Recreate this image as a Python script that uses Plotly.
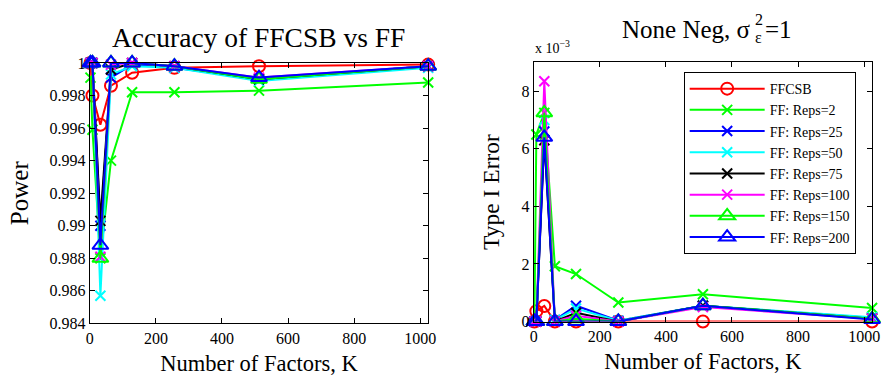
import plotly.graph_objects as go

# Number of factors
K = [2, 8, 32, 64, 128, 256, 512, 1024]

# Power (left panel)
power_ffcsb = [1.0000, 0.9980, 0.9962, 0.9986, 0.9994, 0.9997, 0.9998, 0.9999]
power_reps2 = [0.9991, 0.9959, 0.9880, 0.9940, 0.9982, 0.9982, 0.9983, 0.9988]
power_reps25 = [1.0000, 1.0000, 0.9900, 0.9991, 0.9999, 0.9997, 0.9990, 0.9998]
power_reps50 = [1.0000, 1.0000, 0.9857, 0.9993, 0.9998, 0.9997, 0.9989, 0.9997]
power_reps75 = [1.0000, 1.0000, 0.9903, 0.9996, 1.0000, 0.9998, 0.9990, 0.9998]
power_reps100 = [1.0000, 1.0000, 0.9881, 0.9999, 1.0000, 0.9998, 0.9991, 0.9998]
power_reps150 = [1.0000, 1.0000, 0.9880, 1.0000, 1.0000, 0.9998, 0.9990, 0.9998]
power_reps200 = [1.0000, 1.0000, 0.9888, 1.0000, 1.0000, 0.9998, 0.9991, 0.9998]

# Type I error, in units of 1e-3 (right panel)
err_ffcsb = [0.00, 0.36, 0.54, 0.00, 0.00, 0.00, 0.00, 0.00]
err_reps2 = [0.00, 6.50, 7.25, 1.92, 1.65, 0.66, 0.95, 0.47]
err_reps25 = [0.00, 0.00, 6.60, 0.05, 0.55, 0.03, 0.55, 0.12]
err_reps50 = [0.00, 0.00, 7.00, 0.05, 0.45, 0.03, 0.55, 0.15]
err_reps75 = [0.00, 0.00, 6.30, 0.00, 0.30, 0.00, 0.55, 0.10]
err_reps100 = [0.00, 0.00, 8.35, 0.00, 0.20, 0.00, 0.50, 0.10]
err_reps150 = [0.00, 0.00, 7.25, 0.00, 0.10, 0.00, 0.55, 0.10]
err_reps200 = [0.00, 0.00, 6.40, 0.00, 0.00, 0.00, 0.55, 0.07]

series_names = ["FFCSB", "FF: Reps=2", "FF: Reps=25", "FF: Reps=50",
                "FF: Reps=75", "FF: Reps=100", "FF: Reps=150", "FF: Reps=200"]
power_series = [power_ffcsb, power_reps2, power_reps25, power_reps50,
                power_reps75, power_reps100, power_reps150, power_reps200]
err_series = [err_ffcsb, err_reps2, err_reps25, err_reps50,
              err_reps75, err_reps100, err_reps150, err_reps200]

colors = ["#FF0000", "#00FF00", "#0000FF", "#00FFFF",
          "#000000", "#FF00FF", "#00FF00", "#0000FF"]
symbols = ["circle-open", "x-thin-open", "x-thin-open", "x-thin-open",
           "x-thin-open", "x-thin-open", "triangle-up-open", "triangle-up-open"]
sizes = [12, 10, 10, 10, 10, 10, 14, 14]

FONT = "Liberation Serif"

fig = go.Figure()

for i, name in enumerate(series_names):
    marker = dict(symbol=symbols[i], size=sizes[i], color=colors[i],
                  line=dict(color=colors[i], width=2))
    fig.add_trace(go.Scatter(
        x=K, y=power_series[i], mode="lines+markers", name=name,
        line=dict(color=colors[i], width=2), marker=marker,
        xaxis="x", yaxis="y", showlegend=False, legendgroup=name,
        cliponaxis=False))

for i, name in enumerate(series_names):
    marker = dict(symbol=symbols[i], size=sizes[i], color=colors[i],
                  line=dict(color=colors[i], width=2))
    fig.add_trace(go.Scatter(
        x=K, y=err_series[i], mode="lines+markers", name=name,
        line=dict(color=colors[i], width=2), marker=marker,
        xaxis="x2", yaxis="y2", showlegend=True, legendgroup=name,
        cliponaxis=False))

W, H = 886, 385


def px(x):
    return x / W


def py(y):
    return 1 - y / H


axis_common = dict(
    showline=True, linecolor="black", linewidth=1, mirror="ticks",
    ticks="inside", ticklen=5, tickwidth=1, tickcolor="black",
    showgrid=False, zeroline=False,
    tickfont=dict(family=FONT, size=16, color="black"),
)

power_ticks = [0.984, 0.986, 0.988, 0.99, 0.992, 0.994, 0.996, 0.998, 1.0]
power_ticktext = ["0.984", "0.986", "0.988", "0.99", "0.992", "0.994",
                  "0.996", "0.998", "1"]
x_ticks = [0, 200, 400, 600, 800, 1000]
err_ticks = [0, 2, 4, 6, 8]

fig.update_layout(
    width=W, height=H,
    margin=dict(l=0, r=0, t=0, b=0),
    paper_bgcolor="white", plot_bgcolor="white",
    font=dict(family=FONT, color="black"),
    xaxis=dict(domain=[px(87), px(430)], range=[0, 1024],
               tickvals=x_ticks, anchor="y",
               title=dict(text="Number of Factors, K",
                          font=dict(family=FONT, size=22.5), standoff=9),
               **axis_common),
    yaxis=dict(domain=[1 - 330 / H, 1 - 57.5 / H], range=[0.984, 1.0],
               tickvals=power_ticks, ticktext=power_ticktext, anchor="x",
               title=dict(text="Power", font=dict(family=FONT, size=25),
                          standoff=13),
               **axis_common),
    xaxis2=dict(domain=[px(537), px(880)], range=[0, 1024],
                tickvals=x_ticks, anchor="y2",
                title=dict(text="Number of Factors, K",
                           font=dict(family=FONT, size=22.5), standoff=9),
                **axis_common),
    yaxis2=dict(domain=[1 - 328 / H, 1 - 57 / H], range=[0, 9],
                tickvals=err_ticks, anchor="x2",
                title=dict(text="Type I Error", font=dict(family=FONT, size=23.5),
                           standoff=15),
                **axis_common),
    legend=dict(x=px(689), y=py(67), xanchor="left", yanchor="top",
                bordercolor="black", borderwidth=1, bgcolor="white",
                font=dict(family=FONT, size=14, color="black"),
                itemwidth=75, tracegroupgap=0),
)

# Panel titles and exponent label
annotations = [
    dict(text="Accuracy of FFCSB vs FF", x=px(258), y=py(31),
         xanchor="center", font=dict(family=FONT, size=27.5)),
    dict(text="None Neg, σ", x=px(759), y=py(22), xanchor="right",
         font=dict(family=FONT, size=25)),
    dict(text="2", x=px(759), y=py(12), xanchor="left",
         font=dict(family=FONT, size=16)),
    dict(text="ε", x=px(759), y=py(31), xanchor="left",
         font=dict(family=FONT, size=16)),
    dict(text="=1", x=px(769), y=py(22), xanchor="left",
         font=dict(family=FONT, size=25)),
    dict(text="x 10<sup>−3</sup>", x=px(536), y=py(41), xanchor="left",
         font=dict(family=FONT, size=14)),
]
for a in annotations:
    a.update(xref="paper", yref="paper", showarrow=False, yanchor="middle")
    a["font"]["color"] = "black"
fig.update_layout(annotations=annotations)

fig.write_html("out.html")
